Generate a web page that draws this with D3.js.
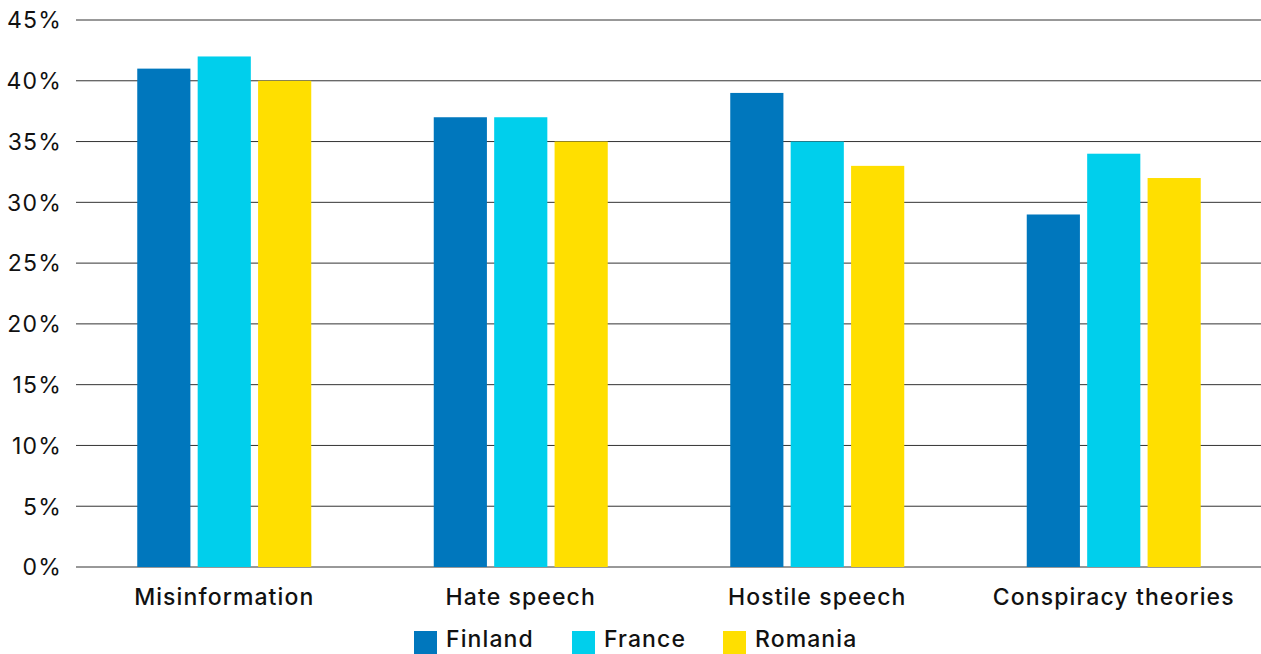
<!DOCTYPE html>
<html>
<head>
<meta charset="utf-8">
<script src="https://cdn.jsdelivr.net/npm/d3@7"></script>
<style>
  html, body { margin: 0; padding: 0; background: #fff; }
  svg { display: block; font-family: Inter, 'Noto Sans', sans-serif; }
</style>
</head>
<body>
<svg id="chart" width="1261" height="654"></svg>
<script>
// Chart data
const categories = ['Misinformation', 'Hate speech', 'Hostile speech', 'Conspiracy theories']
const seriesNames = ['Finland', 'France', 'Romania']
const finland = [41, 37, 39, 29]
const france = [42, 37, 35, 34]
const romania = [40, 35, 33, 32]
const yTicks = [0, 5, 10, 15, 20, 25, 30, 35, 40, 45]

const colors = ['#0077BD', '#00CFEC', '#FFDF00']
const seriesValues = [finland, france, romania]

const svg = d3.select('#chart')
const width = 1261
const height = 654
const margin = { top: 20, right: -1, bottom: 87, left: 76 }

const x0 = d3.scaleBand()
  .domain(categories)
  .range([margin.left, width - margin.right])
  .paddingInner(0)
  .paddingOuter(0)

const groupWidth = 174
const x1 = d3.scaleBand()
  .domain(seriesNames)
  .range([0, groupWidth])
  .paddingInner(0.12)
  .paddingOuter(0)

const y = d3.scaleLinear()
  .domain([0, 45])
  .range([height - margin.bottom, margin.top])

// Gridlines
svg.append('g')
  .selectAll('line')
  .data(yTicks)
  .enter()
  .append('line')
  .attr('x1', margin.left)
  .attr('x2', width)
  .attr('y1', d => y(d))
  .attr('y2', d => y(d))
  .attr('stroke', '#333')
  .attr('stroke-width', 1)

// Y tick labels
svg.append('g')
  .selectAll('text')
  .data(yTicks)
  .enter()
  .append('text')
  .attr('x', 62)
  .attr('y', d => y(d))
  .attr('dy', '0.36em')
  .attr('text-anchor', 'end')
  .style('font-size', '23px')
  .style('letter-spacing', '1.2px')
  .style('fill', '#111')
  .text(d => d + '%')

// Bars
const groups = svg.append('g')
  .selectAll('g')
  .data(categories)
  .enter()
  .append('g')
  .attr('transform', d => `translate(${x0(d) + (x0.bandwidth() - groupWidth) / 2},0)`)

groups.selectAll('rect')
  .data((d, i) => seriesNames.map((s, j) => ({ series: s, value: seriesValues[j][i], color: colors[j] })))
  .enter()
  .append('rect')
  .attr('x', d => x1(d.series))
  .attr('y', d => y(d.value))
  .attr('width', x1.bandwidth())
  .attr('height', d => y(0) - y(d.value))
  .attr('fill', d => d.color)

// Category labels
svg.append('g')
  .selectAll('text')
  .data(categories)
  .enter()
  .append('text')
  .attr('x', d => x0(d) + x0.bandwidth() / 2)
  .attr('y', 605)
  .attr('text-anchor', 'middle')
  .style('font-size', '23px')
  .style('font-weight', '500')
  .style('letter-spacing', '1.1px')
  .style('fill', '#111')
  .text(d => d)

// Legend
const legendX = [414, 572, 723]
const legend = svg.append('g')
seriesNames.forEach((s, i) => {
  const g = legend.append('g').attr('transform', `translate(${legendX[i]},631)`)
  g.append('rect')
    .attr('width', 23)
    .attr('height', 23)
    .attr('fill', colors[i])
  g.append('text')
    .attr('x', 32)
    .attr('y', 16)
    .style('font-size', '23px')
    .style('font-weight', '500')
    .style('letter-spacing', '1.1px')
    .style('fill', '#111')
    .text(s)
})
</script>
</body>
</html>
